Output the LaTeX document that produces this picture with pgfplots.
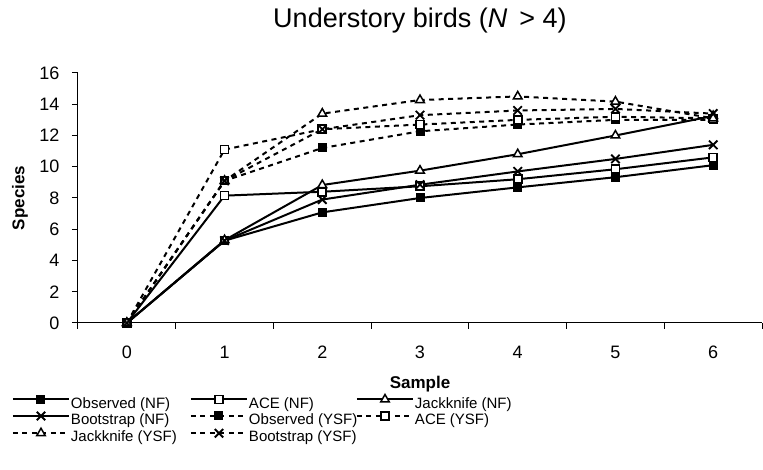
\documentclass[border=0pt]{standalone}
\usepackage{fontspec}
\setmainfont{Liberation Sans}
\usepackage{pgfplots}
\pgfplotsset{compat=1.18}
\pgfplotsset{
  nf/.style={black, line width=2pt, solid},
  ysf/.style={black, line width=2pt, dash pattern=on 5pt off 4.5pt},
  mobs/.style={mark=square*, mark size=4pt, mark options={solid, fill=black, line width=1pt}},
  mace/.style={mark=square*, mark size=4pt, mark options={solid, fill=white, line width=1.6pt}},
  mjack/.style={mark=triangle*, mark size=5pt, mark options={solid, fill=white, line width=1.5pt}},
  mboot/.style={mark=x, mark size=6pt, mark options={solid, line width=1.8pt}},
}
\newcommand{\La}[1]{\makebox[118pt][l]{#1}}
\newcommand{\Lb}[1]{\makebox[106pt][l]{#1}}
\begin{document}
\begin{tikzpicture}
\useasboundingbox (-78pt,-147pt) rectangle (685pt,323pt);
\begin{axis}[
  scale only axis, width=684pt, height=250pt,
  xmin=-0.5, xmax=6.5, ymin=0, ymax=16,
  axis lines*=left, axis line style={line width=1pt, black},
  xtick={0,...,6}, minor xtick={-0.5,0.5,...,6.5},
  ytick={0,2,...,16},
  tick align=outside, tick pos=left,
  major tick length=6pt, minor tick length=6pt,
  major x tick style={draw=none},
  every tick/.style={black, line width=1pt},
  /pgf/number format/assume math mode=true,
  tick label style={font=\fontsize{18}{21}\selectfont},
  xticklabel style={anchor=base, yshift=-30pt},
  yticklabel style={xshift=-9pt},
  title={Understory birds (\textit{N}\hspace{0.45em}> 4)},
  title style={at={(axis description cs:0.5,1)}, anchor=base, yshift=39pt, font=\fontsize{27}{31}\selectfont},
  xlabel={Sample},
  xlabel style={at={(axis description cs:0.5,0)}, anchor=base, yshift=-66pt, font=\fontsize{17}{20}\selectfont\bfseries},
  ylabel={Species},
  ylabel style={at={(axis description cs:-0.0848,0.5)}, anchor=center, font=\fontsize{17}{20}\selectfont\bfseries},
  legend columns=3,
  legend cell align=left,
  legend style={draw=none, fill=none, at={(axis description cs:0,0)}, anchor=north west,
    xshift=-66pt, yshift=-71.5pt, inner sep=0pt, outer sep=0pt, column sep=0pt, row sep=0pt,
    font=\fontsize{15}{18}\selectfont,
    nodes={inner xsep=1pt, inner ysep=0pt, text height=12pt, text depth=3.5pt}},
  legend image code/.code={\draw[mark repeat=2,mark phase=2,#1] plot coordinates {(0pt,4.5pt)(28pt,4.5pt)(56pt,4.5pt)};},
]
\addplot[nf, mobs] coordinates {(0,0) (1,5.27) (2,7.08) (3,8.0) (4,8.68) (5,9.33) (6,10.1)};
\addlegendentry{\La{Observed (NF)}}
\addplot[nf, mace] coordinates {(0,0) (1,8.15) (2,8.4) (3,8.75) (4,9.2) (5,9.84) (6,10.6)};
\addlegendentry{\Lb{ACE (NF)}}
\addplot[nf, mjack] coordinates {(0,0) (1,5.3) (2,8.83) (3,9.75) (4,10.8) (5,12.0) (6,13.25)};
\addlegendentry{Jackknife (NF)}
\addplot[nf, mboot] coordinates {(0,0) (1,5.27) (2,7.9) (3,8.85) (4,9.7) (5,10.5) (6,11.4)};
\addlegendentry{\La{Bootstrap (NF)}}
\addplot[ysf, mobs] coordinates {(0,0) (1,9.1) (2,11.2) (3,12.27) (4,12.7) (5,13.0) (6,13.0)};
\addlegendentry{\Lb{Observed (YSF)}}
\addplot[ysf, mace] coordinates {(0,0) (1,11.1) (2,12.4) (3,12.7) (4,13.0) (5,13.2) (6,13.1)};
\addlegendentry{ACE (YSF)}
\addplot[ysf, mjack] coordinates {(0,0) (1,9.1) (2,13.4) (3,14.27) (4,14.5) (5,14.17) (6,13.1)};
\addlegendentry{\La{Jackknife (YSF)}}
\addplot[ysf, mboot] coordinates {(0,0) (1,9.1) (2,12.4) (3,13.3) (4,13.6) (5,13.7) (6,13.4)};
\addlegendentry{\Lb{Bootstrap (YSF)}}
\end{axis}
\end{tikzpicture}
\end{document}
